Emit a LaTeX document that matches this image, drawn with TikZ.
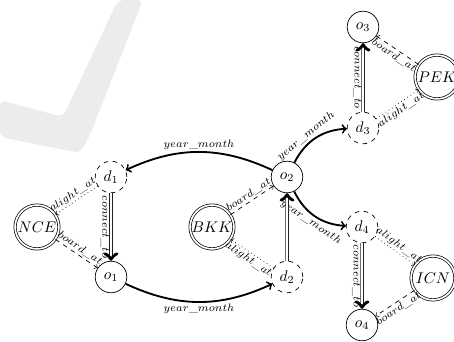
\documentclass[tikz,border=0pt]{standalone}
\begin{document}
\begin{tikzpicture}[scale=1.14, line width=0.45pt,
    stato/.style={circle, draw, minimum size=0.72cm, inner sep=0pt},
    dest/.style={stato, dashed},
    citta/.style={circle, draw, double, double distance=1.1pt, minimum size=1.0cm, inner sep=0pt},
    mese/.style={->, line width=1.2pt},
    conn/.style={->, double, double distance=1.4pt},
    sale/.style={->, dashed},
    scende/.style={->, dotted},
    etich/.style={font=\scriptsize, sloped, inner sep=1pt},
    giu/.style={font=\scriptsize, rotate=-90, anchor=north, inner sep=1pt}
]

    % -- Cornice e filigrana --
    \useasboundingbox (0,0) rectangle (9.08,6.84);
    \fill[gray!15, rounded corners=4pt] (2.36,6.84) -- (2.86,6.84) -- (1.80,4.14)
        -- (1.60,3.78) -- (0,4.10) -- (0,4.84) -- (1.26,4.50) -- cycle;

    % -- Nodi --
    \node[dest]  (d1) at (2.22, 3.30) {$d_1$};
    \node[stato] (o1) at (2.22, 1.30) {$o_1$};
    \node[citta] (nce) at (0.74, 2.30) {$NCE$};

    \node[citta] (bkk) at (4.24, 2.30) {$BKK$};
    \node[stato] (o2) at (5.74, 3.30) {$o_2$};
    \node[dest]  (d2) at (5.74, 1.30) {$d_2$};

    \node[dest]  (d3) at (7.26, 4.28) {$d_3$};
    \node[stato] (o3) at (7.26, 6.30) {$o_3$};
    \node[citta] (pek) at (8.74, 5.30) {$PEK$};

    \node[dest]  (d4) at (7.24, 2.30) {$d_4$};
    \node[stato] (o4) at (7.24, 0.34) {$o_4$};
    \node[citta] (icn) at (8.66, 1.28) {$ICN$};

    % -- Archi year_month --
    \draw[mese] (o2) to[bend right=25] node[etich, above] {$year\_month$} (d1);
    \draw[mese] (o1) to[bend right=25] node[etich, below] {$year\_month$} (d2);
    \draw[mese] (o2) to[bend left=30] node[etich, above, pos=0.4] {$year\_month$} (d3);
    \draw[mese] (o2) to[bend right=30] node[etich, below, pos=0.5] {$year\_month$} (d4);

    % -- Archi connect_to --
    \draw[conn] (d1) -- node[giu] {$connect\_to$} (o1);
    \draw[conn] (d2) -- (o2);
    \draw[conn] (d3) -- node[giu] {$connect\_to$} (o3);
    \draw[conn] (d4) -- node[giu] {$connect\_to$} (o4);

    % -- Salita e discesa --
    \draw[scende] (d1) -- node[etich, above] {$alight\_at$} (nce);
    \draw[sale] (nce) -- node[etich, above] {$board\_at$} (o1);
    \draw[sale] (bkk) -- node[etich, above] {$board\_at$} (o2);
    \draw[scende] (d2) -- node[etich, below] {$alight\_at$} (bkk);
    \draw[sale] (pek) -- node[etich, below] {$board\_at$} (o3);
    \draw[scende] (d3) -- node[etich, below] {$alight\_at$} (pek);
    \draw[scende] (d4) -- node[etich, above] {$alight\_at$} (icn);
    \draw[sale] (icn) -- node[etich, below] {$board\_at$} (o4);

\end{tikzpicture}
\end{document}
